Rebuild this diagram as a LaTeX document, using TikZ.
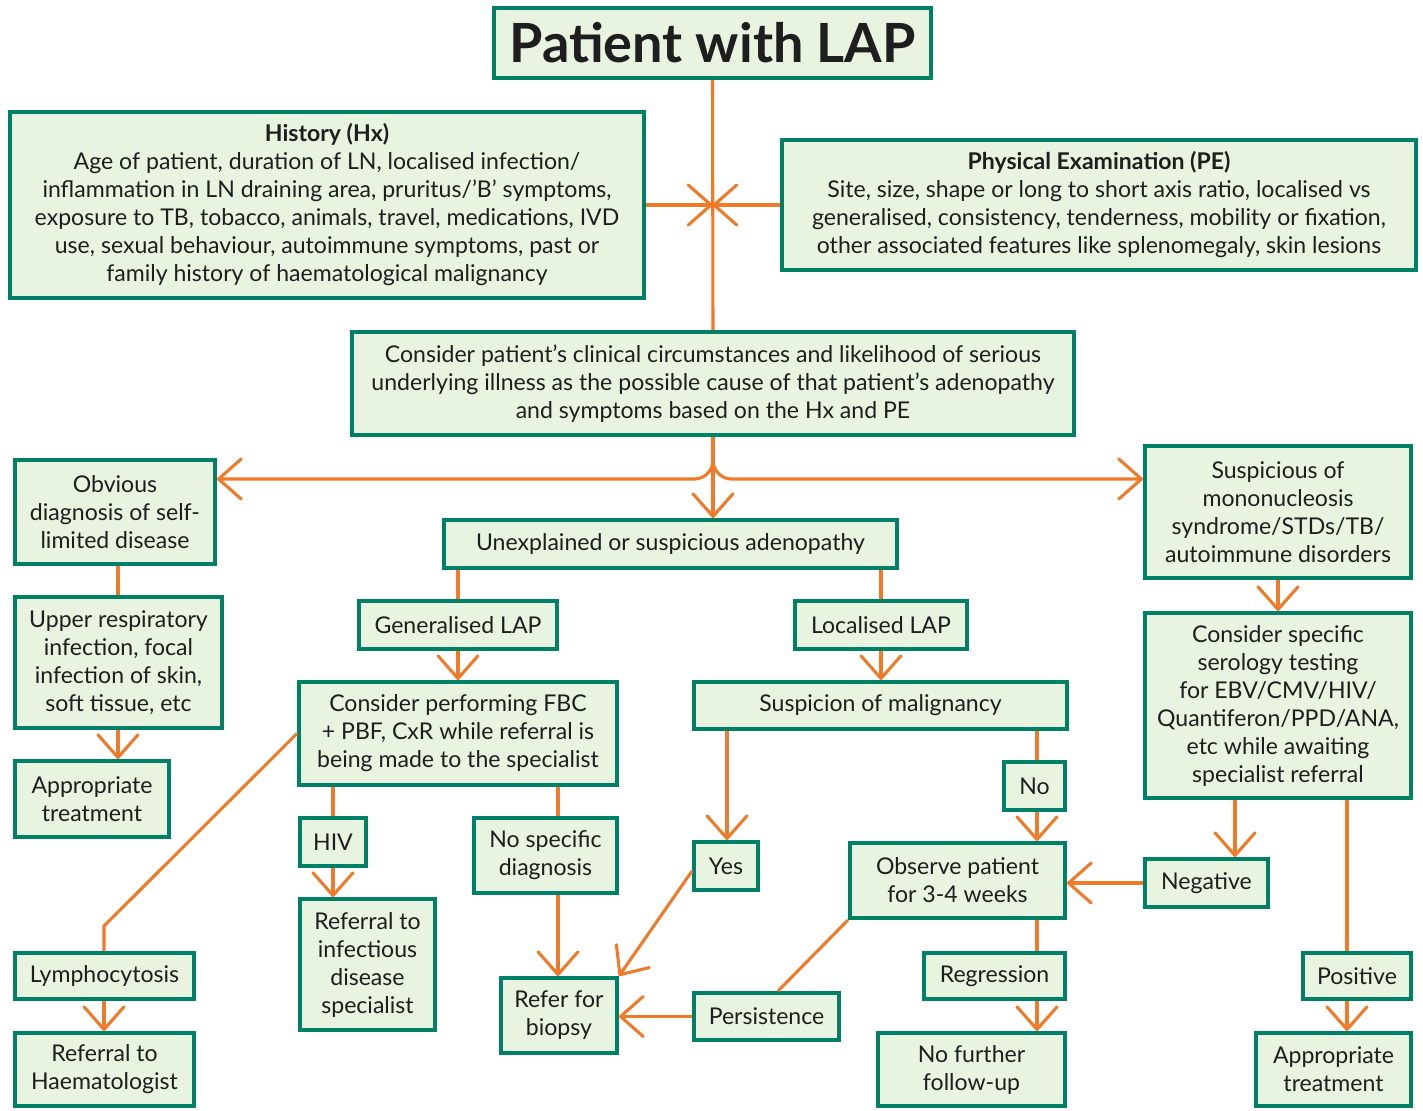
\documentclass[tikz,border=0pt]{standalone}
\usepackage{fontspec}
\setmainfont{Lato}
\usetikzlibrary{arrows.meta,calc}
\definecolor{bfill}{RGB}{232,243,224}
\definecolor{bdraw}{RGB}{0,128,102}
\definecolor{orng}{RGB}{240,122,40}
\definecolor{txt}{RGB}{30,30,30}
\tikzset{
 box/.style={draw=bdraw, fill=bfill, line width=3pt, inner sep=0pt, align=center,
   font=\fontsize{17.3}{21}\selectfont, text=txt},
 conn/.style={draw=orng, line width=2.3pt},
 arr/.style={conn, -{Straight Barb[length=17pt,width=30pt,line cap=round,line join=round]}},
}
\newcommand\bx[6]{\node[box, minimum width={(#4-#2-4)*0.75pt}, minimum height={(#5-#3-4)*0.75pt}] (#1) at ({(#2+#4)/2},{(#3+#5)/2}) {#6};}
\begin{document}
\begin{tikzpicture}[x=0.75pt,y=-0.75pt]
\useasboundingbox (0,0) rectangle (1423,1110);
% boxes
\bx{title}{492}{6}{933}{80}{\fontsize{40.5}{44}\selectfont\bfseries Patient with LAP}
\bx{hist}{8}{110}{646}{300}{\textbf{History (Hx)}\\Age of patient, duration of LN, localised infection/\\inflammation in LN draining area, pruritus/’B’ symptoms,\\exposure to TB, tobacco, animals, travel, medications, IVD\\use, sexual behaviour, autoimmune symptoms, past or\\family history of haematological malignancy}
\bx{pe}{780}{138}{1418}{272}{\textbf{Physical Examination (PE)}\\Site, size, shape or long to short axis ratio, localised vs\\generalised, consistency, tenderness, mobility or fixation,\\other associated features like splenomegaly, skin lesions}
\bx{cons}{350}{330}{1076}{437}{Consider patient’s clinical circumstances and likelihood of serious\\underlying illness as the possible cause of that patient’s adenopathy\\and symptoms based on the Hx and PE}
\bx{obv}{13}{458}{217}{566}{Obvious\\diagnosis of self-\\limited disease}
\bx{unexp}{442}{518}{899}{570}{Unexplained or suspicious adenopathy}
\bx{susp}{1143}{444}{1413}{580}{Suspicious of\\mononucleosis\\syndrome/STDs/TB/\\autoimmune disorders}
\bx{upper}{13}{595}{224}{730}{Upper respiratory\\infection, focal\\infection of skin,\\soft tissue, etc}
\bx{gen}{357}{599}{559}{651}{Generalised LAP}
\bx{loc}{793}{599}{969}{651}{Localised LAP}
\bx{spec}{1143}{611}{1413}{800}{Consider specific\\serology testing\\for EBV/CMV/HIV/\\Quantiferon/PPD/ANA,\\etc while awaiting\\specialist referral}
\bx{fbc}{297}{680}{619}{787}{Consider performing FBC\\+ PBF, CxR while referral is\\being made to the specialist}
\bx{mal}{692}{680}{1069}{731}{Suspicion of malignancy}
\bx{apl}{13}{759}{171}{839}{Appropriate\\treatment}
\bx{hiv}{298}{816}{368}{868}{HIV}
\bx{nospec}{472}{816}{619}{895}{No specific\\diagnosis}
\bx{no}{1002}{760}{1067}{812}{No}
\bx{yes}{692}{840}{760}{892}{Yes}
\bx{obs}{848}{841}{1067}{920}{Observe patient\\for 3-4 weeks}
\bx{neg}{1143}{857}{1270}{909}{Negative}
\bx{inf}{298}{897}{437}{1032}{Referral to\\infectious\\disease\\specialist}
\bx{lym}{13}{951}{196}{1001}{Lymphocytosis}
\bx{bio}{499}{976}{619}{1055}{Refer for\\biopsy}
\bx{pers}{692}{991}{841}{1042}{Persistence}
\bx{reg}{922}{951}{1067}{1001}{Regression}
\bx{pos}{1301}{951}{1413}{1001}{Positive}
\bx{haem}{13}{1031}{196}{1108}{Referral to\\Haematologist}
\bx{nofu}{876}{1031}{1067}{1108}{No further\\follow-up}
\bx{apr}{1254}{1031}{1413}{1108}{Appropriate\\treatment}
% helper coordinates
\coordinate (hy) at (0,479);
\coordinate (x1037) at (1037,0);
\coordinate (x1235) at (1235,0);
\coordinate (x1347) at (1347,0);
\coordinate (x118) at (118,0);
\coordinate (x558) at (558,0);
\coordinate (x104) at (104,0);
\coordinate (x778) at (778,0);
\coordinate (x727) at (727,0);
% connectors
\draw[conn] (title.south) -- (cons.north);
\draw[arr] (hist.east) -- (title.south |- hist.east);
\draw[arr] (pe.west) -- (title.south |- pe.west);
\draw[arr, rounded corners=14pt] (cons.south) |- (obv.east |- hy);
\draw[arr, rounded corners=14pt] (cons.south) |- (susp.west |- hy);
\draw[arr] (cons.south) -- (cons.south |- unexp.north);
\draw[conn] (x118 |- obv.south) -- (x118 |- upper.north);
\draw[arr] (x118 |- upper.south) -- (x118 |- apl.north);
\draw[conn] (gen.north |- unexp.south) -- (gen.north);
\draw[conn] (loc.north |- unexp.south) -- (loc.north);
\draw[arr] (gen.south) -- (gen.south |- fbc.north);
\draw[arr] (loc.south) -- (loc.south |- mal.north);
\draw[conn] (fbc.west) -- ($(x104 |- lym.north)+(0,-25)$) -- (x104 |- lym.north);
\draw[arr] (x104 |- lym.south) -- (x104 |- haem.north);
\draw[conn] (hiv.north |- fbc.south) -- (hiv.north);
\draw[arr] (hiv.south) -- (hiv.south |- inf.north);
\draw[conn] (x558 |- fbc.south) -- (x558 |- nospec.north);
\draw[arr] (x558 |- nospec.south) -- (x558 |- bio.north);
\draw[arr] (x727 |- mal.south) -- (x727 |- yes.north);
\draw[arr] ($(yes.west)+(0,5)$) -- (bio.north east);
\draw[conn] (x1037 |- mal.south) -- (x1037 |- no.north);
\draw[arr] (x1037 |- no.south) -- (x1037 |- obs.north);
\draw[conn] (obs.south west) -- (x778 |- pers.north);
\draw[arr] (pers.west) -- (pers.west -| bio.east);
\draw[conn] (x1037 |- obs.south) -- (x1037 |- reg.north);
\draw[arr] (x1037 |- reg.south) -- (x1037 |- nofu.north);
\draw[arr] (susp.south) -- (susp.south |- spec.north);
\draw[arr] (x1235 |- spec.south) -- (x1235 |- neg.north);
\draw[arr] (neg.west) -- (neg.west -| obs.east);
\draw[conn] (x1347 |- spec.south) -- (x1347 |- pos.north);
\draw[arr] (x1347 |- pos.south) -- (x1347 |- apr.north);
\end{tikzpicture}
\end{document}
